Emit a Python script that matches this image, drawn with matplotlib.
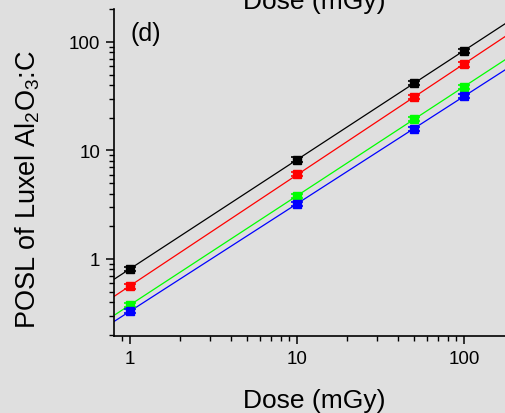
import numpy as np
import matplotlib
matplotlib.use("Agg")
import matplotlib.pyplot as plt

plt.rcParams['font.family'] = ['Liberation Sans', 'DejaVu Sans']
plt.rcParams['mathtext.fontset'] = 'custom'
plt.rcParams['mathtext.rm'] = 'Liberation Sans'
plt.rcParams['mathtext.it'] = 'Liberation Sans'

# dose points (mGy) and POSL readings for the four series
dose = [1, 10, 50, 100]
posl_black = [0.81, 8.2, 41.9, 82.6]
posl_red = [0.56, 6.07, 31.1, 62.0]
posl_green = [0.377, 3.81, 19.5, 38.5]
posl_blue = [0.331, 3.21, 15.8, 31.8]
series = [(posl_black, 'black'), (posl_red, 'red'),
          (posl_green, '#00ff00'), (posl_blue, 'blue')]
rel_err = 0.05

bg = '#dfdfdf'
fig = plt.figure(figsize=(5.06, 4.14), dpi=100, facecolor=bg)
# axes runs past the right edge of the picture, as in the cropped original
ax = fig.add_axes([114 / 506, 77 / 414, 416 / 506, 327 / 414])
ax.set_facecolor('none')

ax.set_xscale('log')
ax.set_yscale('log')
ax.set_xlim(0.802, 248)
ax.set_ylim(0.195, 201)

xfit = np.logspace(np.log10(0.802), np.log10(248), 50)
for vals, col in series:
    vals = np.array(vals)
    p = np.polyfit(np.log10(dose), np.log10(vals), 1)
    ax.plot(xfit, 10 ** np.polyval(p, np.log10(xfit)), color=col, lw=0.9)
    ax.errorbar(dose, vals, yerr=vals * rel_err, fmt='s', color=col,
                ms=5.5, capsize=4.5, elinewidth=1, capthick=1.2, zorder=3)

for s in ['top', 'right']:
    ax.spines[s].set_visible(False)
for s in ['left', 'bottom']:
    ax.spines[s].set_linewidth(1.2)

ax.tick_params(which='major', direction='out', length=6, width=1.1,
               labelsize=13.5, pad=4)
ax.tick_params(which='minor', direction='out', length=3.5, width=1)
ax.set_xticks([1, 10, 100])
ax.set_xticklabels(['1', '10', '100'])
ax.set_yticks([1, 10, 100])
ax.set_yticklabels(['1', '10', '100'])

ax.text(17 / 416, (373 - 77) / 327, '(d)', transform=ax.transAxes,
        fontsize=18, ha='left', va='baseline')

fig.text(314 / 506, 6 / 414, 'Dose (mGy)', fontsize=19,
         ha='center', va='baseline')
# label of the panel above, cut by the crop
fig.text(314 / 506, (414 - 9) / 414, 'Dose (mGy)', fontsize=19,
         ha='center', va='baseline')
fig.text(28 / 506, (414 - 190) / 414, r'POSL of Luxel Al$_2$O$_3$:C',
         fontsize=19.5, rotation=90, ha='center', va='center')

fig.savefig('out.png', dpi=100, facecolor=bg)
